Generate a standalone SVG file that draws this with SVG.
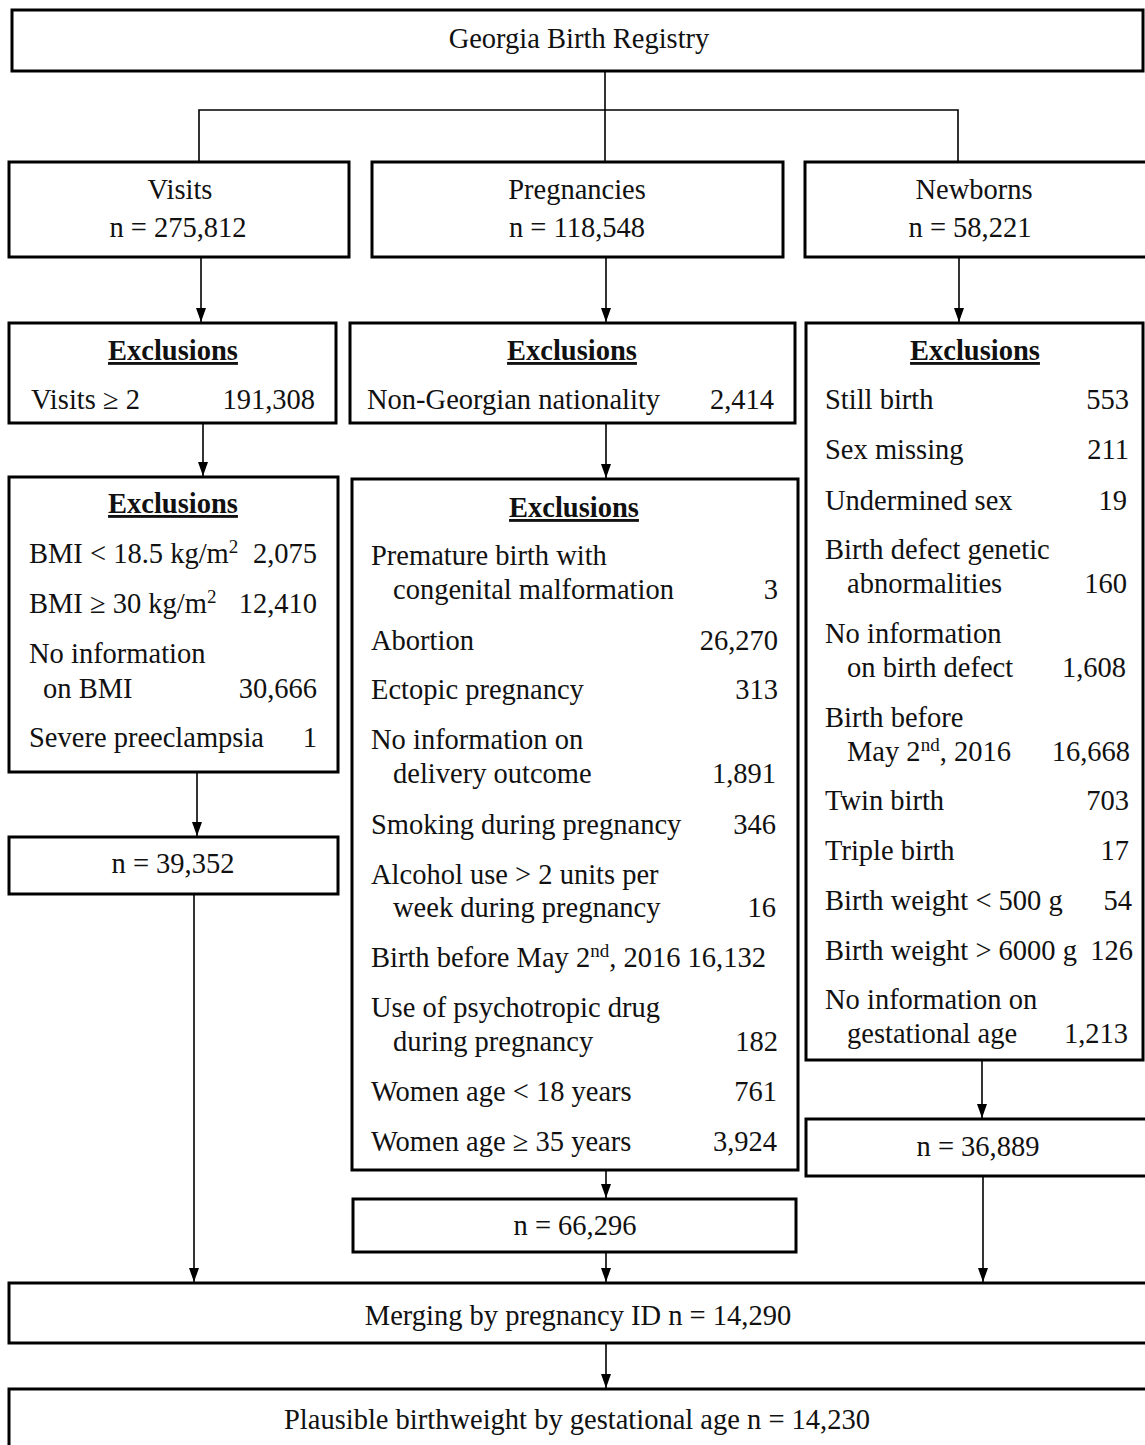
<svg xmlns="http://www.w3.org/2000/svg" width="1145" height="1445" viewBox="0 0 1145 1445">
<defs>
<marker id="arr" viewBox="0 0 14 10" refX="14" refY="5" markerWidth="14" markerHeight="11" markerUnits="userSpaceOnUse" orient="auto">
<path d="M0,0 L14,5 L0,10 z" fill="#000"/>
</marker>
<style>
.box{fill:#fff;stroke:#000;stroke-width:3}
.t{font-family:"Liberation Serif","Times New Roman",serif;font-size:28.5px;fill:#111}
.c{text-anchor:middle}
.r{text-anchor:end}
.h{font-weight:bold;text-decoration:underline}
.sup{font-size:19px}
.ln{fill:none;stroke:#000;stroke-width:1.6}
.ar{fill:none;stroke:#000;stroke-width:1.6;marker-end:url(#arr)}
</style>
</defs>
<rect width="1145" height="1445" fill="#fff"/>

<g id="connectors">
<path class="ln" d="M605,71 V162"/>
<path class="ln" d="M199,162 V110 H958 V162"/>
<path class="ar" d="M201,257 V322"/>
<path class="ar" d="M606,257 V322"/>
<path class="ar" d="M959,257 V322"/>
<path class="ar" d="M203,423 V476"/>
<path class="ar" d="M606,423 V478"/>
<path class="ar" d="M197,772 V836"/>
<path class="ar" d="M194,894 V1282"/>
<path class="ar" d="M606,1170 V1198"/>
<path class="ar" d="M606,1252 V1282"/>
<path class="ar" d="M982,1060 V1118"/>
<path class="ar" d="M983,1176 V1282"/>
<path class="ar" d="M606,1343 V1388"/>
</g>

<g id="registry">
<rect class="box" x="12" y="10" width="1131" height="61"/>
<text class="t c" x="579" y="48">Georgia Birth Registry</text>
</g>

<g id="visits">
<rect class="box" x="9" y="162" width="340" height="95"/>
<text class="t c" x="180" y="199">Visits</text>
<text class="t c" x="178" y="237">n = 275,812</text>
</g>

<g id="pregnancies">
<rect class="box" x="372" y="162" width="411" height="95"/>
<text class="t c" x="577" y="199">Pregnancies</text>
<text class="t c" x="577" y="237">n = 118,548</text>
</g>

<g id="newborns">
<rect class="box" x="805" y="162" width="345" height="95"/>
<text class="t c" x="974" y="199">Newborns</text>
<text class="t c" x="970" y="237">n = 58,221</text>
</g>

<g id="visits-excl1">
<rect class="box" x="9" y="323" width="327" height="100"/>
<text class="t c h" x="173" y="360">Exclusions</text>
<text class="t" x="31" y="409">Visits ≥ 2</text>
<text class="t r" x="315" y="409">191,308</text>
</g>

<g id="preg-excl1">
<rect class="box" x="350" y="323" width="445" height="100"/>
<text class="t c h" x="572" y="360">Exclusions</text>
<text class="t" x="367" y="409">Non-Georgian nationality</text>
<text class="t r" x="774" y="409">2,414</text>
</g>

<g id="newborn-excl">
<rect class="box" x="806" y="323" width="337" height="737"/>
<text class="t c h" x="975" y="360">Exclusions</text>
<text class="t" x="825" y="409">Still birth</text><text class="t r" x="1129" y="409">553</text>
<text class="t" x="825" y="459">Sex missing</text><text class="t r" x="1129" y="459">211</text>
<text class="t" x="825" y="510">Undermined sex</text><text class="t r" x="1127" y="510">19</text>
<text class="t" x="825" y="559">Birth defect genetic</text>
<text class="t" x="847" y="593">abnormalities</text><text class="t r" x="1127" y="593">160</text>
<text class="t" x="825" y="643">No information</text>
<text class="t" x="847" y="677">on birth defect</text><text class="t r" x="1126" y="677">1,608</text>
<text class="t" x="825" y="727">Birth before</text>
<text class="t" x="847" y="761">May 2<tspan class="sup" dy="-10">nd</tspan><tspan dy="10">, 2016</tspan></text><text class="t r" x="1130" y="761">16,668</text>
<text class="t" x="825" y="810">Twin birth</text><text class="t r" x="1129" y="810">703</text>
<text class="t" x="825" y="860">Triple birth</text><text class="t r" x="1129" y="860">17</text>
<text class="t" x="825" y="910">Birth weight &lt; 500 g</text><text class="t r" x="1132" y="910">54</text>
<text class="t" x="825" y="960">Birth weight &gt; 6000 g</text><text class="t r" x="1133" y="960">126</text>
<text class="t" x="825" y="1009">No information on</text>
<text class="t" x="847" y="1043">gestational age</text><text class="t r" x="1128" y="1043">1,213</text>
</g>

<g id="visits-excl2">
<rect class="box" x="9" y="477" width="329" height="295"/>
<text class="t c h" x="173" y="513">Exclusions</text>
<text class="t" x="29" y="563">BMI &lt; 18.5 kg/m<tspan class="sup" dy="-10">2</tspan></text><text class="t r" x="317" y="563">2,075</text>
<text class="t" x="29" y="613">BMI ≥ 30 kg/m<tspan class="sup" dy="-10">2</tspan></text><text class="t r" x="317" y="613">12,410</text>
<text class="t" x="29" y="663">No information</text>
<text class="t" x="43" y="698">on BMI</text><text class="t r" x="317" y="698">30,666</text>
<text class="t" x="29" y="747">Severe preeclampsia</text><text class="t r" x="317" y="747">1</text>
</g>

<g id="preg-excl2">
<rect class="box" x="352" y="479" width="446" height="691"/>
<text class="t c h" x="574" y="517">Exclusions</text>
<text class="t" x="371" y="565">Premature birth with</text>
<text class="t" x="393" y="599">congenital malformation</text><text class="t r" x="778" y="599">3</text>
<text class="t" x="371" y="650">Abortion</text><text class="t r" x="778" y="650">26,270</text>
<text class="t" x="371" y="699">Ectopic pregnancy</text><text class="t r" x="778" y="699">313</text>
<text class="t" x="371" y="749">No information on</text>
<text class="t" x="393" y="783">delivery outcome</text><text class="t r" x="776" y="783">1,891</text>
<text class="t" x="371" y="834">Smoking during pregnancy</text><text class="t r" x="776" y="834">346</text>
<text class="t" x="371" y="884">Alcohol use &gt; 2 units per</text>
<text class="t" x="393" y="917">week during pregnancy</text><text class="t r" x="776" y="917">16</text>
<text class="t" x="371" y="967">Birth before May 2<tspan class="sup" dy="-10">nd</tspan><tspan dy="10">, 2016 16,132</tspan></text>
<text class="t" x="371" y="1017">Use of psychotropic drug</text>
<text class="t" x="393" y="1051">during pregnancy</text><text class="t r" x="778" y="1051">182</text>
<text class="t" x="371" y="1101">Women age &lt; 18 years</text><text class="t r" x="777" y="1101">761</text>
<text class="t" x="371" y="1151">Women age ≥ 35 years</text><text class="t r" x="777" y="1151">3,924</text>
</g>

<g id="visits-n">
<rect class="box" x="9" y="837" width="329" height="57"/>
<text class="t c" x="173" y="873">n = 39,352</text>
</g>

<g id="preg-n">
<rect class="box" x="353" y="1199" width="443" height="53"/>
<text class="t c" x="575" y="1235">n = 66,296</text>
</g>

<g id="newborn-n">
<rect class="box" x="806" y="1119" width="345" height="57"/>
<text class="t c" x="978" y="1156">n = 36,889</text>
</g>

<g id="merging">
<rect class="box" x="9" y="1283" width="1140" height="60"/>
<text class="t c" x="578" y="1325">Merging by pregnancy ID n = 14,290</text>
</g>

<g id="plausible">
<rect class="box" x="9" y="1389" width="1140" height="70"/>
<text class="t c" x="577" y="1429">Plausible birthweight by gestational age n = 14,230</text>
</g>
</svg>
